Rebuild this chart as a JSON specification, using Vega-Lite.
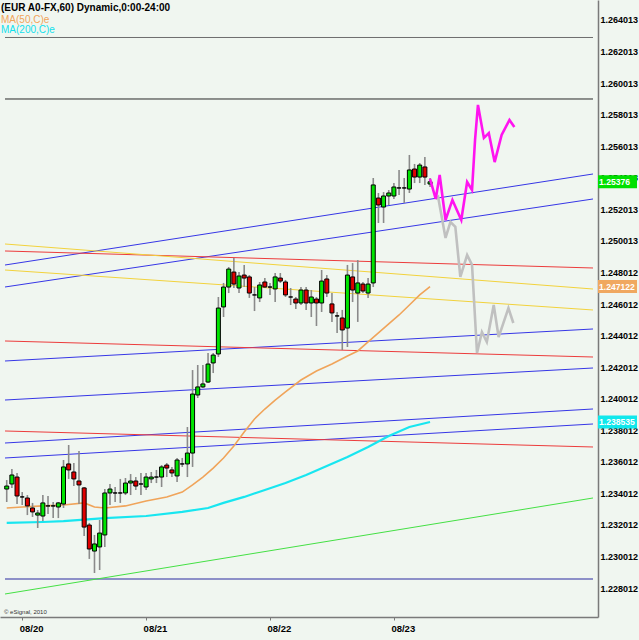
{
  "$schema": "https://vega.github.io/schema/vega-lite/v6.json",
  "width": 598,
  "height": 617,
  "autosize": {"type": "none"},
  "padding": {"left": 0, "top": 0, "right": 41, "bottom": 23},
  "background": "#f0f6f0",
  "config": {
    "view": {"stroke": null},
    "font": "Liberation Sans",
    "axis": {"grid": false, "domainColor": "#7a7a7a", "domainWidth": 1.5, "labelColor": "#000000", "labelFont": "Liberation Sans", "labelFontSize": 9, "labelFontWeight": "bold", "title": null, "labelOverlap": false}
  },
  "datasets": {
    "candles": [
      {"t": "2010-08-19T21:00", "open": 1.23429, "high": 1.23486, "low": 1.23347, "close": 1.23448},
      {"t": "2010-08-19T22:00", "open": 1.23461, "high": 1.23556, "low": 1.23436, "close": 1.23518},
      {"t": "2010-08-19T23:00", "open": 1.23505, "high": 1.23531, "low": 1.23334, "close": 1.23385},
      {"t": "2010-08-20T00:00", "open": 1.23379, "high": 1.23410, "low": 1.23328, "close": 1.23379},
      {"t": "2010-08-20T01:00", "open": 1.23372, "high": 1.23391, "low": 1.23264, "close": 1.23322},
      {"t": "2010-08-20T02:00", "open": 1.23309, "high": 1.23341, "low": 1.23252, "close": 1.23284},
      {"t": "2010-08-20T03:00", "open": 1.23264, "high": 1.23296, "low": 1.23182, "close": 1.23277},
      {"t": "2010-08-20T04:00", "open": 1.23258, "high": 1.23391, "low": 1.23226, "close": 1.23341},
      {"t": "2010-08-20T05:00", "open": 1.23322, "high": 1.23385, "low": 1.23271, "close": 1.23322},
      {"t": "2010-08-20T06:00", "open": 1.23322, "high": 1.23347, "low": 1.23245, "close": 1.23322},
      {"t": "2010-08-20T07:00", "open": 1.23315, "high": 1.23347, "low": 1.23245, "close": 1.23341},
      {"t": "2010-08-20T08:00", "open": 1.23334, "high": 1.23613, "low": 1.23309, "close": 1.23569},
      {"t": "2010-08-20T09:00", "open": 1.23588, "high": 1.23708, "low": 1.23493, "close": 1.23550},
      {"t": "2010-08-20T10:00", "open": 1.23537, "high": 1.23594, "low": 1.23448, "close": 1.23493},
      {"t": "2010-08-20T11:00", "open": 1.23480, "high": 1.23670, "low": 1.23334, "close": 1.23455},
      {"t": "2010-08-20T12:00", "open": 1.23436, "high": 1.23442, "low": 1.23131, "close": 1.23188},
      {"t": "2010-08-20T13:00", "open": 1.23201, "high": 1.23214, "low": 1.22986, "close": 1.23049},
      {"t": "2010-08-20T14:00", "open": 1.23036, "high": 1.23138, "low": 1.22897, "close": 1.23081},
      {"t": "2010-08-20T15:00", "open": 1.23062, "high": 1.23233, "low": 1.22916, "close": 1.23150},
      {"t": "2010-08-20T16:00", "open": 1.23138, "high": 1.23429, "low": 1.23062, "close": 1.23404},
      {"t": "2010-08-20T17:00", "open": 1.23404, "high": 1.23461, "low": 1.23328, "close": 1.23429},
      {"t": "2010-08-20T18:00", "open": 1.23404, "high": 1.23442, "low": 1.23347, "close": 1.23404},
      {"t": "2010-08-20T19:00", "open": 1.23404, "high": 1.23493, "low": 1.23341, "close": 1.23404},
      {"t": "2010-08-20T20:00", "open": 1.23404, "high": 1.23499, "low": 1.23391, "close": 1.23467},
      {"t": "2010-08-20T21:00", "open": 1.23467, "high": 1.23524, "low": 1.23391, "close": 1.23480},
      {"t": "2010-08-20T22:00", "open": 1.23480, "high": 1.23505, "low": 1.23423, "close": 1.23448},
      {"t": "2010-08-20T23:00", "open": 1.23461, "high": 1.23531, "low": 1.23391, "close": 1.23461},
      {"t": "2010-08-21T00:00", "open": 1.23442, "high": 1.23531, "low": 1.23423, "close": 1.23505},
      {"t": "2010-08-21T01:00", "open": 1.23493, "high": 1.23537, "low": 1.23467, "close": 1.23505},
      {"t": "2010-08-21T02:00", "open": 1.23505, "high": 1.23550, "low": 1.23467, "close": 1.23505},
      {"t": "2010-08-21T03:00", "open": 1.23505, "high": 1.23581, "low": 1.23442, "close": 1.23569},
      {"t": "2010-08-21T04:00", "open": 1.23581, "high": 1.23594, "low": 1.23505, "close": 1.23562},
      {"t": "2010-08-21T05:00", "open": 1.23550, "high": 1.23569, "low": 1.23505, "close": 1.23531},
      {"t": "2010-08-21T06:00", "open": 1.23512, "high": 1.23626, "low": 1.23474, "close": 1.23613},
      {"t": "2010-08-21T07:00", "open": 1.23588, "high": 1.23626, "low": 1.23569, "close": 1.23588},
      {"t": "2010-08-21T08:00", "open": 1.23588, "high": 1.23822, "low": 1.23505, "close": 1.23657},
      {"t": "2010-08-21T09:00", "open": 1.23657, "high": 1.24183, "low": 1.23569, "close": 1.24031},
      {"t": "2010-08-21T10:00", "open": 1.24025, "high": 1.24215, "low": 1.24006, "close": 1.24076},
      {"t": "2010-08-21T11:00", "open": 1.24076, "high": 1.24215, "low": 1.24069, "close": 1.24095},
      {"t": "2010-08-21T12:00", "open": 1.24107, "high": 1.24291, "low": 1.24101, "close": 1.24221},
      {"t": "2010-08-21T13:00", "open": 1.24228, "high": 1.24291, "low": 1.24164, "close": 1.24278},
      {"t": "2010-08-21T14:00", "open": 1.24285, "high": 1.24646, "low": 1.24266, "close": 1.24576},
      {"t": "2010-08-21T15:00", "open": 1.24583, "high": 1.24735, "low": 1.24519, "close": 1.24709},
      {"t": "2010-08-21T16:00", "open": 1.24709, "high": 1.24836, "low": 1.24671, "close": 1.24823},
      {"t": "2010-08-21T17:00", "open": 1.24804, "high": 1.24893, "low": 1.24703, "close": 1.24728},
      {"t": "2010-08-21T18:00", "open": 1.24703, "high": 1.24804, "low": 1.24671, "close": 1.24779},
      {"t": "2010-08-21T19:00", "open": 1.24785, "high": 1.24849, "low": 1.24709, "close": 1.24766},
      {"t": "2010-08-21T20:00", "open": 1.24773, "high": 1.24785, "low": 1.24640, "close": 1.24671},
      {"t": "2010-08-21T21:00", "open": 1.24659, "high": 1.24709, "low": 1.24557, "close": 1.24659},
      {"t": "2010-08-21T22:00", "open": 1.24640, "high": 1.24741, "low": 1.24614, "close": 1.24722},
      {"t": "2010-08-21T23:00", "open": 1.24741, "high": 1.24766, "low": 1.24703, "close": 1.24709},
      {"t": "2010-08-22T00:00", "open": 1.24709, "high": 1.24735, "low": 1.24659, "close": 1.24709},
      {"t": "2010-08-22T01:00", "open": 1.24697, "high": 1.24798, "low": 1.24614, "close": 1.24773},
      {"t": "2010-08-22T02:00", "open": 1.24766, "high": 1.24798, "low": 1.24735, "close": 1.24747},
      {"t": "2010-08-22T03:00", "open": 1.24741, "high": 1.24754, "low": 1.24646, "close": 1.24659},
      {"t": "2010-08-22T04:00", "open": 1.24646, "high": 1.24703, "low": 1.24595, "close": 1.24646},
      {"t": "2010-08-22T05:00", "open": 1.24633, "high": 1.24646, "low": 1.24570, "close": 1.24608},
      {"t": "2010-08-22T06:00", "open": 1.24608, "high": 1.24709, "low": 1.24595, "close": 1.24690},
      {"t": "2010-08-22T07:00", "open": 1.24690, "high": 1.24709, "low": 1.24564, "close": 1.24608},
      {"t": "2010-08-22T08:00", "open": 1.24608, "high": 1.24690, "low": 1.24519, "close": 1.24646},
      {"t": "2010-08-22T09:00", "open": 1.24633, "high": 1.24646, "low": 1.24462, "close": 1.24608},
      {"t": "2010-08-22T10:00", "open": 1.24608, "high": 1.24817, "low": 1.24551, "close": 1.24747},
      {"t": "2010-08-22T11:00", "open": 1.24760, "high": 1.24785, "low": 1.24646, "close": 1.24671},
      {"t": "2010-08-22T12:00", "open": 1.24602, "high": 1.24671, "low": 1.24488, "close": 1.24545},
      {"t": "2010-08-22T13:00", "open": 1.24526, "high": 1.24551, "low": 1.24418, "close": 1.24526},
      {"t": "2010-08-22T14:00", "open": 1.24513, "high": 1.24564, "low": 1.24310, "close": 1.24437},
      {"t": "2010-08-22T15:00", "open": 1.24449, "high": 1.24849, "low": 1.24329, "close": 1.24785},
      {"t": "2010-08-22T16:00", "open": 1.24773, "high": 1.24861, "low": 1.24614, "close": 1.24690},
      {"t": "2010-08-22T17:00", "open": 1.24671, "high": 1.24880, "low": 1.24488, "close": 1.24735},
      {"t": "2010-08-22T18:00", "open": 1.24728, "high": 1.24741, "low": 1.24671, "close": 1.24684},
      {"t": "2010-08-22T19:00", "open": 1.24671, "high": 1.24766, "low": 1.24640, "close": 1.24728},
      {"t": "2010-08-22T20:00", "open": 1.24735, "high": 1.25400, "low": 1.24709, "close": 1.25356},
      {"t": "2010-08-22T21:00", "open": 1.25273, "high": 1.25305, "low": 1.25115, "close": 1.25229},
      {"t": "2010-08-22T22:00", "open": 1.25216, "high": 1.25311, "low": 1.25115, "close": 1.25286},
      {"t": "2010-08-22T23:00", "open": 1.25286, "high": 1.25324, "low": 1.25229, "close": 1.25305},
      {"t": "2010-08-23T00:00", "open": 1.25286, "high": 1.25368, "low": 1.25267, "close": 1.25343},
      {"t": "2010-08-23T01:00", "open": 1.25337, "high": 1.25451, "low": 1.25292, "close": 1.25337},
      {"t": "2010-08-23T02:00", "open": 1.25337, "high": 1.25400, "low": 1.25242, "close": 1.25337},
      {"t": "2010-08-23T03:00", "open": 1.25330, "high": 1.25546, "low": 1.25305, "close": 1.25451},
      {"t": "2010-08-23T04:00", "open": 1.25457, "high": 1.25489, "low": 1.25368, "close": 1.25406},
      {"t": "2010-08-23T05:00", "open": 1.25406, "high": 1.25495, "low": 1.25368, "close": 1.25482},
      {"t": "2010-08-23T06:00", "open": 1.25470, "high": 1.25533, "low": 1.25356, "close": 1.25406},
      {"t": "2010-08-23T07:00", "open": 1.25362, "high": 1.25400, "low": 1.25343, "close": 1.25376}
    ],
    "ma": [
      {"series": "MA50", "t": "2010-08-19T21:00", "v": 1.23309},
      {"series": "MA50", "t": "2010-08-20T00:00", "v": 1.23315},
      {"series": "MA50", "t": "2010-08-20T04:00", "v": 1.23322},
      {"series": "MA50", "t": "2010-08-20T08:00", "v": 1.23328},
      {"series": "MA50", "t": "2010-08-20T12:00", "v": 1.23341},
      {"series": "MA50", "t": "2010-08-20T14:00", "v": 1.23315},
      {"series": "MA50", "t": "2010-08-20T16:00", "v": 1.23309},
      {"series": "MA50", "t": "2010-08-20T20:00", "v": 1.23322},
      {"series": "MA50", "t": "2010-08-21T00:00", "v": 1.23353},
      {"series": "MA50", "t": "2010-08-21T04:00", "v": 1.23379},
      {"series": "MA50", "t": "2010-08-21T07:00", "v": 1.23410},
      {"series": "MA50", "t": "2010-08-21T09:00", "v": 1.23455},
      {"series": "MA50", "t": "2010-08-21T11:00", "v": 1.23505},
      {"series": "MA50", "t": "2010-08-21T13:00", "v": 1.23562},
      {"series": "MA50", "t": "2010-08-21T15:00", "v": 1.23626},
      {"series": "MA50", "t": "2010-08-21T17:00", "v": 1.23702},
      {"series": "MA50", "t": "2010-08-21T19:00", "v": 1.23790},
      {"series": "MA50", "t": "2010-08-21T21:00", "v": 1.23873},
      {"series": "MA50", "t": "2010-08-21T23:00", "v": 1.23936},
      {"series": "MA50", "t": "2010-08-22T01:00", "v": 1.23993},
      {"series": "MA50", "t": "2010-08-22T03:00", "v": 1.24044},
      {"series": "MA50", "t": "2010-08-22T06:00", "v": 1.24120},
      {"series": "MA50", "t": "2010-08-22T09:00", "v": 1.24177},
      {"series": "MA50", "t": "2010-08-22T12:00", "v": 1.24221},
      {"series": "MA50", "t": "2010-08-22T15:00", "v": 1.24272},
      {"series": "MA50", "t": "2010-08-22T17:00", "v": 1.24304},
      {"series": "MA50", "t": "2010-08-22T19:00", "v": 1.24361},
      {"series": "MA50", "t": "2010-08-22T21:00", "v": 1.24418},
      {"series": "MA50", "t": "2010-08-22T23:00", "v": 1.24475},
      {"series": "MA50", "t": "2010-08-23T01:00", "v": 1.24532},
      {"series": "MA50", "t": "2010-08-23T03:00", "v": 1.24595},
      {"series": "MA50", "t": "2010-08-23T05:00", "v": 1.24659},
      {"series": "MA50", "t": "2010-08-23T07:00", "v": 1.247122},
      {"series": "MA200", "t": "2010-08-19T21:00", "v": 1.23214},
      {"series": "MA200", "t": "2010-08-20T04:00", "v": 1.23220},
      {"series": "MA200", "t": "2010-08-20T08:00", "v": 1.23226},
      {"series": "MA200", "t": "2010-08-20T16:00", "v": 1.23245},
      {"series": "MA200", "t": "2010-08-21T00:00", "v": 1.23258},
      {"series": "MA200", "t": "2010-08-21T07:00", "v": 1.23284},
      {"series": "MA200", "t": "2010-08-21T12:00", "v": 1.23309},
      {"series": "MA200", "t": "2010-08-21T15:00", "v": 1.23341},
      {"series": "MA200", "t": "2010-08-21T19:00", "v": 1.23379},
      {"series": "MA200", "t": "2010-08-21T23:00", "v": 1.23423},
      {"series": "MA200", "t": "2010-08-22T03:00", "v": 1.23467},
      {"series": "MA200", "t": "2010-08-22T07:00", "v": 1.23518},
      {"series": "MA200", "t": "2010-08-22T11:00", "v": 1.23575},
      {"series": "MA200", "t": "2010-08-22T15:00", "v": 1.23632},
      {"series": "MA200", "t": "2010-08-22T19:00", "v": 1.23695},
      {"series": "MA200", "t": "2010-08-22T23:00", "v": 1.23765},
      {"series": "MA200", "t": "2010-08-23T03:00", "v": 1.23822},
      {"series": "MA200", "t": "2010-08-23T07:00", "v": 1.238535}
    ],
    "forecast": [
      {"scenario": "bearish", "t": "2010-08-23T08:06", "v": 1.25267},
      {"scenario": "bearish", "t": "2010-08-23T08:34", "v": 1.25280},
      {"scenario": "bearish", "t": "2010-08-23T10:00", "v": 1.25020},
      {"scenario": "bearish", "t": "2010-08-23T10:57", "v": 1.25121},
      {"scenario": "bearish", "t": "2010-08-23T11:54", "v": 1.25090},
      {"scenario": "bearish", "t": "2010-08-23T12:52", "v": 1.24773},
      {"scenario": "bearish", "t": "2010-08-23T14:11", "v": 1.24912},
      {"scenario": "bearish", "t": "2010-08-23T15:08", "v": 1.24849},
      {"scenario": "bearish", "t": "2010-08-23T16:06", "v": 1.24291},
      {"scenario": "bearish", "t": "2010-08-23T17:03", "v": 1.24424},
      {"scenario": "bearish", "t": "2010-08-23T18:00", "v": 1.24361},
      {"scenario": "bearish", "t": "2010-08-23T19:20", "v": 1.24595},
      {"scenario": "bearish", "t": "2010-08-23T20:17", "v": 1.24392},
      {"scenario": "bearish", "t": "2010-08-23T22:11", "v": 1.24576},
      {"scenario": "bearish", "t": "2010-08-23T23:08", "v": 1.24481},
      {"scenario": "bullish", "t": "2010-08-23T07:00", "v": 1.25394},
      {"scenario": "bullish", "t": "2010-08-23T08:06", "v": 1.25267},
      {"scenario": "bullish", "t": "2010-08-23T08:52", "v": 1.25419},
      {"scenario": "bullish", "t": "2010-08-23T10:00", "v": 1.25134},
      {"scenario": "bullish", "t": "2010-08-23T11:20", "v": 1.25261},
      {"scenario": "bullish", "t": "2010-08-23T13:03", "v": 1.25134},
      {"scenario": "bullish", "t": "2010-08-23T14:11", "v": 1.25375},
      {"scenario": "bullish", "t": "2010-08-23T15:08", "v": 1.25324},
      {"scenario": "bullish", "t": "2010-08-23T15:43", "v": 1.25641},
      {"scenario": "bullish", "t": "2010-08-23T16:17", "v": 1.25863},
      {"scenario": "bullish", "t": "2010-08-23T17:26", "v": 1.25654},
      {"scenario": "bullish", "t": "2010-08-23T18:23", "v": 1.25685},
      {"scenario": "bullish", "t": "2010-08-23T19:31", "v": 1.25501},
      {"scenario": "bullish", "t": "2010-08-23T20:52", "v": 1.25673},
      {"scenario": "bullish", "t": "2010-08-23T22:23", "v": 1.25768},
      {"scenario": "bullish", "t": "2010-08-23T23:20", "v": 1.25723}
    ],
    "lines": [
      {"kind": "frame", "t1": "2010-08-19T20:40", "t2": "2010-08-24T14:34", "p1": 1.262904, "p2": 1.262904},
      {"kind": "marker", "t1": "2010-08-19T20:40", "t2": "2010-08-24T14:34", "p1": 1.259007, "p2": 1.259007},
      {"kind": "base", "t1": "2010-08-19T20:40", "t2": "2010-08-24T14:34", "p1": 1.228589, "p2": 1.228589},
      {"kind": "channel", "t1": "2010-08-19T20:40", "t2": "2010-08-24T14:34", "p1": 1.248487, "p2": 1.254254},
      {"kind": "channel", "t1": "2010-08-19T20:40", "t2": "2010-08-24T14:34", "p1": 1.247093, "p2": 1.252670},
      {"kind": "channel", "t1": "2010-08-19T20:40", "t2": "2010-08-24T14:34", "p1": 1.242404, "p2": 1.244432},
      {"kind": "channel", "t1": "2010-08-19T20:40", "t2": "2010-08-24T14:34", "p1": 1.239932, "p2": 1.241960},
      {"kind": "channel", "t1": "2010-08-19T20:40", "t2": "2010-08-24T14:34", "p1": 1.237207, "p2": 1.239362},
      {"kind": "channel", "t1": "2010-08-19T20:40", "t2": "2010-08-24T14:34", "p1": 1.236257, "p2": 1.238412},
      {"kind": "resistance", "t1": "2010-08-19T20:40", "t2": "2010-08-24T14:34", "p1": 1.249375, "p2": 1.248297},
      {"kind": "resistance", "t1": "2010-08-19T20:40", "t2": "2010-08-24T14:34", "p1": 1.243671, "p2": 1.242657},
      {"kind": "resistance", "t1": "2010-08-19T20:40", "t2": "2010-08-24T14:34", "p1": 1.237968, "p2": 1.236954},
      {"kind": "fan", "t1": "2010-08-19T20:40", "t2": "2010-08-24T14:34", "p1": 1.249818, "p2": 1.246966},
      {"kind": "fan", "t1": "2010-08-19T20:40", "t2": "2010-08-24T14:34", "p1": 1.248170, "p2": 1.245636},
      {"kind": "support", "t1": "2010-08-19T20:40", "t2": "2010-08-24T14:34", "p1": 1.227639, "p2": 1.233722}
    ],
    "tags": [
      {"label": "1.25376", "v": 1.25376, "kind": "last"},
      {"label": "1.247122", "v": 1.247122, "kind": "ma50"},
      {"label": "1.238535", "v": 1.238535, "kind": "ma200"}
    ]
  },
  "layer": [
    {
      "data": {"name": "lines"},
      "mark": {"type": "rule", "strokeWidth": 1},
      "encoding": {
        "x": {"field": "t1", "type": "temporal",
          "scale": {"domain": [{"year": 2010, "month": 8, "date": 19, "hours": 20, "minutes": 40}, {"year": 2010, "month": 8, "date": 24, "hours": 14, "minutes": 34}]},
          "axis": {"orient": "bottom", "format": "%m/%d", "labelAlign": "left", "labelPadding": 3, "labelOffset": -3, "tickSize": 3, "tickColor": "#7a7a7a", "labelFontSize": 9.5,
            "values": [{"year": 2010, "month": 8, "date": 20}, {"year": 2010, "month": 8, "date": 21}, {"year": 2010, "month": 8, "date": 22}, {"year": 2010, "month": 8, "date": 23}]}},
        "x2": {"field": "t2"},
        "y": {"field": "p1", "type": "quantitative",
          "scale": {"domain": [1.226181, 1.26528], "nice": false, "zero": false},
          "axis": {"orient": "right", "ticks": false, "labelPadding": 2, "format": ".6f", "labelOverlap": false, "labelSeparation": 0, "labelBound": false,
            "values": [1.264013, 1.262013, 1.260013, 1.258013, 1.256013, 1.254013, 1.252013, 1.250013, 1.248012, 1.246012, 1.244012, 1.242012, 1.240012, 1.238012, 1.236012, 1.234012, 1.232012, 1.230012, 1.228012]}},
        "y2": {"field": "p2"},
        "color": {"field": "kind", "type": "nominal", "legend": null,
          "scale": {"domain": ["frame", "marker", "base", "channel", "resistance", "fan", "support"],
                    "range": ["#6e6e6e", "#2a2a2a", "#2a2aa0", "#3636e6", "#ec3c3c", "#f2d23c", "#44e044"]}}
      }
    },
    {
      "data": {"name": "ma"},
      "transform": [{"filter": "datum.series === 'MA200'"}],
      "mark": {"type": "line", "color": "#18e6f0", "strokeWidth": 2.2},
      "encoding": {"x": {"field": "t", "type": "temporal"}, "y": {"field": "v", "type": "quantitative", "axis": null}}
    },
    {
      "data": {"name": "ma"},
      "transform": [{"filter": "datum.series === 'MA50'"}],
      "mark": {"type": "line", "color": "#f0a45a", "strokeWidth": 1.6},
      "encoding": {"x": {"field": "t", "type": "temporal"}, "y": {"field": "v", "type": "quantitative", "axis": null}}
    },
    {
      "data": {"name": "candles"},
      "mark": {"type": "rule", "color": "#8a8a8a", "strokeWidth": 1.6},
      "encoding": {"x": {"field": "t", "type": "temporal"}, "y": {"field": "low", "type": "quantitative", "axis": null}, "y2": {"field": "high"}}
    },
    {
      "data": {"name": "candles"},
      "mark": {"type": "bar", "width": 4, "stroke": "#000000", "strokeWidth": 1},
      "encoding": {
        "x": {"field": "t", "type": "temporal"},
        "y": {"field": "open", "type": "quantitative", "axis": null},
        "y2": {"field": "close"},
        "fill": {"condition": {"test": "datum.close >= datum.open", "value": "#00e400"}, "value": "#e00000"}
      }
    },
    {
      "data": {"name": "forecast"},
      "transform": [{"filter": "datum.scenario === 'bearish'"}],
      "mark": {"type": "line", "color": "#c0c0c0", "strokeWidth": 2.6},
      "encoding": {"x": {"field": "t", "type": "temporal"}, "y": {"field": "v", "type": "quantitative", "axis": null}}
    },
    {
      "data": {"name": "forecast"},
      "transform": [{"filter": "datum.scenario === 'bullish'"}],
      "mark": {"type": "line", "color": "#ff14f0", "strokeWidth": 2.6},
      "encoding": {"x": {"field": "t", "type": "temporal"}, "y": {"field": "v", "type": "quantitative", "axis": null}}
    },
    {
      "data": {"name": "tags"},
      "mark": {"type": "rect", "width": 39, "height": 13, "xOffset": 19.5},
      "encoding": {
        "x": {"value": 598},
        "y": {"field": "v", "type": "quantitative", "axis": null},
        "yOffset": {"field": "kind", "type": "nominal", "scale": {"domain": ["last", "ma50", "ma200"], "range": [0, 7, 0]}},
        "fill": {"field": "kind", "type": "nominal", "legend": null, "scale": {"domain": ["last", "ma50", "ma200"], "range": ["#00e000", "#f0a860", "#10e8ec"]}}
      }
    },
    {
      "data": {"name": "tags"},
      "mark": {"type": "text", "align": "left", "baseline": "middle", "dx": 1, "fontSize": 8.6, "fontWeight": "bold", "color": "#ffffff"},
      "encoding": {
        "x": {"value": 598},
        "y": {"field": "v", "type": "quantitative", "axis": null},
        "yOffset": {"field": "kind", "type": "nominal", "scale": {"domain": ["last", "ma50", "ma200"], "range": [0, 7, 0]}},
        "text": {"field": "label"}
      }
    },
    {
      "data": {"values": [{"label": "(EUR A0-FX,60) Dynamic,0:00-24:00"}]},
      "mark": {"type": "text", "align": "left", "baseline": "middle", "fontSize": 10, "fontWeight": "bold", "color": "#000000"},
      "encoding": {"x": {"value": 1}, "y": {"value": 8}, "text": {"field": "label"}}
    },
    {
      "data": {"values": [{"label": "MA(50,C)e"}]},
      "mark": {"type": "text", "align": "left", "baseline": "middle", "fontSize": 10, "color": "#f0a45a"},
      "encoding": {"x": {"value": 1}, "y": {"value": 20}, "text": {"field": "label"}}
    },
    {
      "data": {"values": [{"label": "MA(200,C)e"}]},
      "mark": {"type": "text", "align": "left", "baseline": "middle", "fontSize": 10, "color": "#10e0ec"},
      "encoding": {"x": {"value": 1}, "y": {"value": 30}, "text": {"field": "label"}}
    },
    {
      "data": {"values": [{"label": "© eSignal, 2010"}]},
      "mark": {"type": "text", "align": "left", "baseline": "middle", "fontSize": 6, "color": "#333333"},
      "encoding": {"x": {"value": 4}, "y": {"value": 612}, "text": {"field": "label"}}
    }
  ],
  "resolve": {"scale": {"color": "independent", "fill": "independent"}, "axis": {"y": "independent"}}
}
